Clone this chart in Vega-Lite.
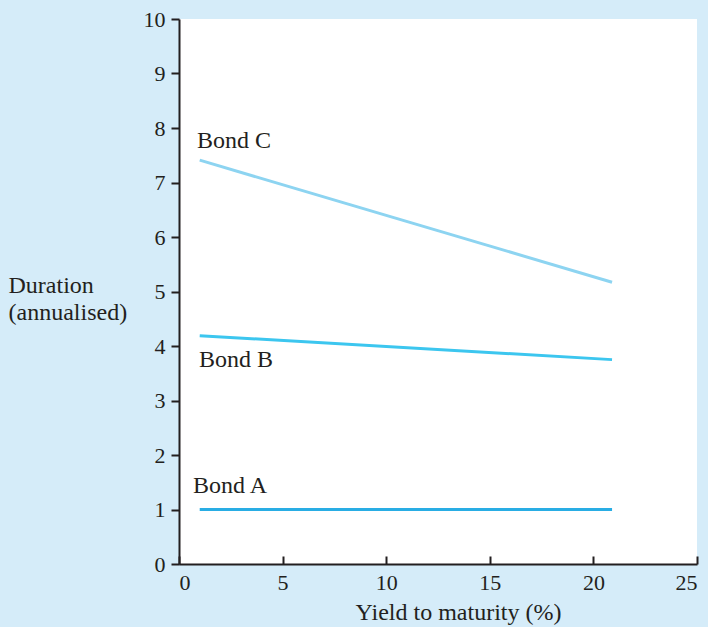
{
  "$schema": "https://vega.github.io/schema/vega-lite/v6.json",
  "autosize": {"type": "none"},
  "padding": {"left": 179, "top": 19, "right": 11, "bottom": 63},
  "width": 518,
  "height": 545,
  "background": "#d5ecf9",
  "config": {
    "view": {"fill": "white", "stroke": null},
    "font": "Liberation Serif",
    "axis": {
      "grid": false,
      "domainColor": "#231f20",
      "domainWidth": 2,
      "tickColor": "#231f20",
      "tickWidth": 2,
      "labelFont": "Liberation Serif",
      "labelFontSize": 22,
      "labelColor": "#231f20",
      "titleFont": "Liberation Serif",
      "titleFontSize": 24,
      "titleFontWeight": "normal",
      "titleColor": "#231f20"
    }
  },
  "datasets": {
    "lines": [
      {"bond": "Bond A", "ytm": 1, "duration": 1.0},
      {"bond": "Bond A", "ytm": 20.9, "duration": 1.0},
      {"bond": "Bond B", "ytm": 1, "duration": 4.19},
      {"bond": "Bond B", "ytm": 20.9, "duration": 3.75},
      {"bond": "Bond C", "ytm": 1, "duration": 7.41},
      {"bond": "Bond C", "ytm": 20.9, "duration": 5.17}
    ],
    "labels": [
      {"label": "Bond A", "ytm": 0.68, "duration": 1.31},
      {"label": "Bond B", "ytm": 0.97, "duration": 3.62},
      {"label": "Bond C", "ytm": 0.87, "duration": 7.63}
    ]
  },
  "layer": [
    {
      "data": {"name": "lines"},
      "mark": {"type": "line", "strokeWidth": 3},
      "encoding": {
        "x": {
          "field": "ytm", "type": "quantitative",
          "scale": {"domain": [0, 25], "nice": false},
          "axis": {
            "title": "Yield to maturity (%)",
            "values": [0, 5, 10, 15, 20, 25],
            "tickSize": -8,
            "labelPadding": 16,
            "titleX": 279,
            "titleY": 55,
            "titleBaseline": "alphabetic",
            "titleAnchor": "middle"
          }
        },
        "y": {
          "field": "duration", "type": "quantitative",
          "scale": {"domain": [0, 10], "nice": false},
          "axis": {
            "title": ["Duration", "(annualised)"],
            "values": [0, 1, 2, 3, 4, 5, 6, 7, 8, 9, 10],
            "tickSize": 8,
            "labelPadding": 6,
            "titleAngle": 0,
            "titleAlign": "left",
            "titleBaseline": "alphabetic",
            "titleX": -171,
            "titleY": 273,
            "titleLineHeight": 27
          }
        },
        "color": {
          "field": "bond", "type": "nominal",
          "scale": {"domain": ["Bond A", "Bond B", "Bond C"], "range": ["#29ade4", "#3cc6ef", "#8dd4f1"]},
          "legend": null
        }
      }
    },
    {
      "data": {"name": "labels"},
      "mark": {"type": "text", "align": "left", "baseline": "alphabetic", "fontSize": 24, "font": "Liberation Serif", "color": "#231f20"},
      "encoding": {
        "x": {"field": "ytm", "type": "quantitative"},
        "y": {"field": "duration", "type": "quantitative"},
        "text": {"field": "label"}
      }
    }
  ]
}
